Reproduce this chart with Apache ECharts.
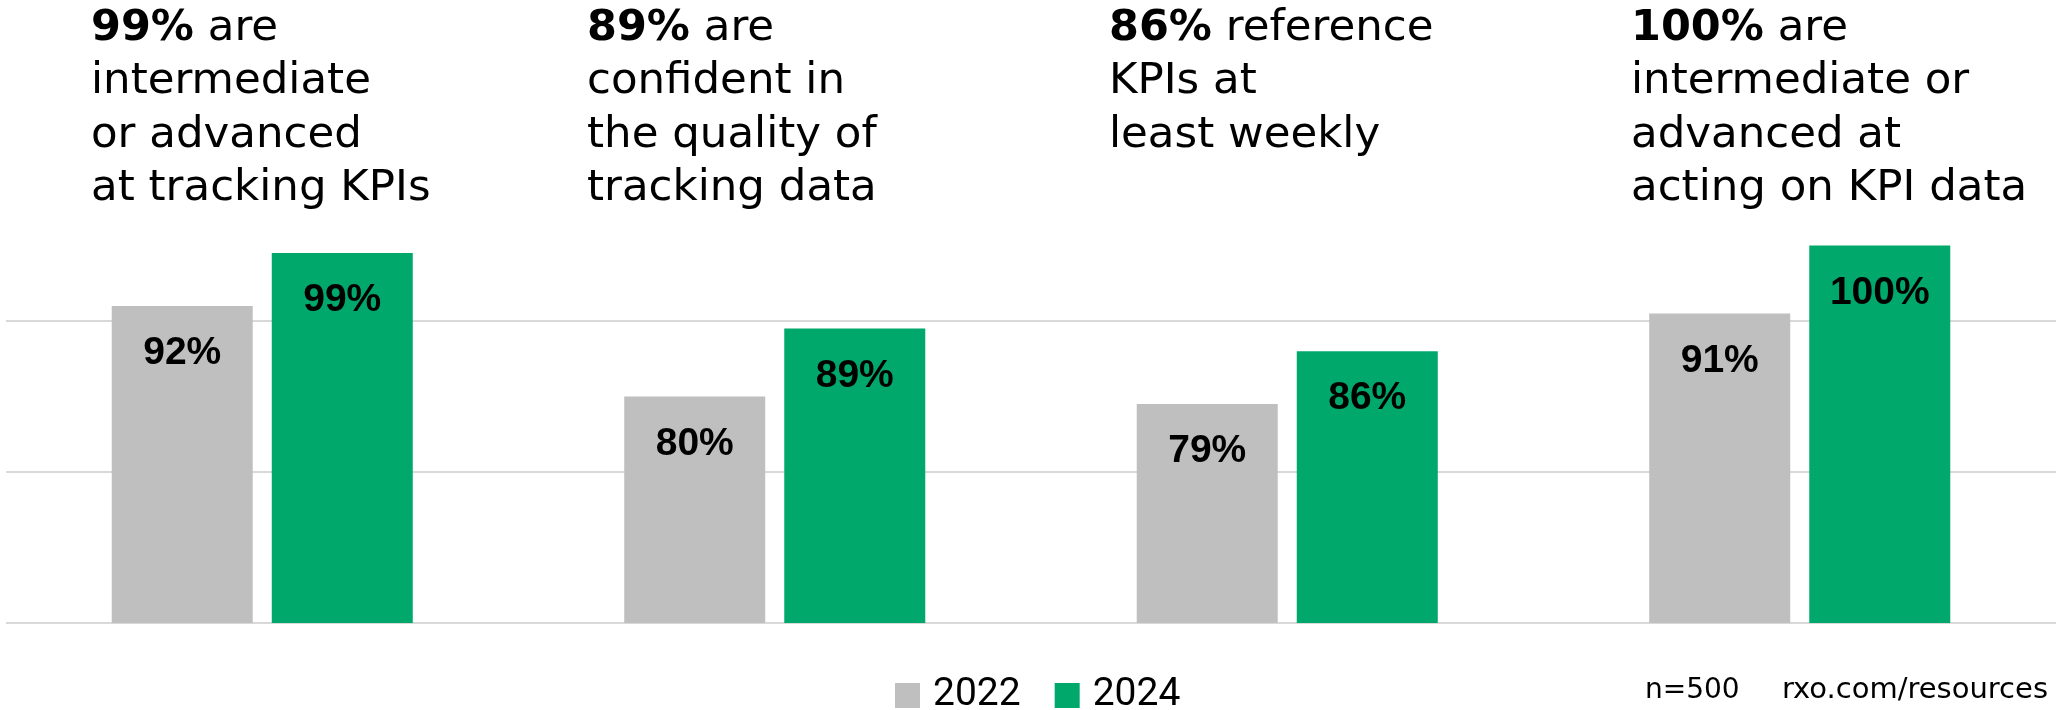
<!DOCTYPE html>
<html>
<head>
<meta charset="utf-8">
<script src="https://cdn.jsdelivr.net/npm/echarts@6/dist/echarts.min.js"></script>
<style>
  html, body { margin: 0; padding: 0; background: #ffffff; }
  #chart { width: 2062px; height: 710px; }
</style>
</head>
<body>
<div id="chart"></div>
<script>
// KPI survey results, 2022 vs 2024
const categories = ['Tracking KPIs', 'Data confidence', 'Weekly reference', 'Acting on KPI data'];
const seriesNames = ['2022', '2024'];
const values2022 = [92, 80, 79, 91];
const values2024 = [99, 89, 86, 100];

// Headline wording under each bold 2024 figure (one entry per line)
const headlineLines = [
  [' are', 'intermediate', 'or advanced', 'at tracking KPIs'],
  [' are', 'confident in', 'the quality of', 'tracking data'],
  [' reference', 'KPIs at', 'least weekly'],
  [' are', 'intermediate or', 'advanced at', 'acting on KPI data']
];
const headlineLeft = [91, 587, 1109, 1631];

const sampleNote = 'n=500';
const sourceNote = 'rxo.com/resources';

const GRAY = '#bfbfbf';
const GREEN = '#00a86b';
const TITLE_FONT = '"DejaVu Sans", sans-serif';

const chart = echarts.init(document.getElementById('chart'), null, { renderer: 'canvas' });

const titles = headlineLines.map((lines, i) => ({
  left: headlineLeft[i],
  top: 2,
  padding: 0,
  text: '{b|' + values2024[i] + '%}{n|' + lines[0] + '}\n' +
        lines.slice(1).map(l => '{n|' + l + '}').join('\n'),
  textStyle: {
    rich: {
      b: { fontFamily: TITLE_FONT, fontWeight: 'bold', fontSize: 43, color: '#000', lineHeight: 53.4 },
      n: { fontFamily: TITLE_FONT, fontWeight: 'normal', fontSize: 43.5, color: '#000', lineHeight: 53.4 }
    }
  }
}));

const barLabel = {
  show: true,
  position: 'insideTop',
  distance: 28,
  formatter: '{c}%',
  color: '#000',
  fontFamily: '"Liberation Sans", Arial, sans-serif',
  fontWeight: 'bold',
  fontSize: 39
};

chart.setOption({
  backgroundColor: '#ffffff',
  animation: false,
  title: titles,
  legend: {
    data: seriesNames,
    left: 895,
    top: 676,
    padding: 0,
    icon: 'rect',
    itemWidth: 25,
    itemHeight: 25,
    itemGap: 34,
    textStyle: {
      fontFamily: 'Roboto, sans-serif',
      fontSize: 39,
      color: '#000',
      padding: [0, 0, 0, 8]
    }
  },
  grid: { left: 6, right: 6, top: 170, bottom: 87, containLabel: false },
  xAxis: {
    type: 'category',
    data: categories,
    axisLine: { show: false },
    axisTick: { show: false },
    axisLabel: { show: false }
  },
  yAxis: {
    type: 'value',
    min: 50,
    max: 110,
    interval: 20,
    axisLine: { show: false },
    axisTick: { show: false },
    axisLabel: { show: false },
    splitLine: {
      show: true,
      showMaxLine: false,
      lineStyle: { color: ['#d9d9d9', '#d9d9d9', '#d9d9d9', 'rgba(0,0,0,0)'], width: 2 }
    }
  },
  series: [
    {
      name: seriesNames[0],
      type: 'bar',
      data: values2022,
      barWidth: 141,
      barGap: '13.5%',
      itemStyle: { color: GRAY },
      label: barLabel
    },
    {
      name: seriesNames[1],
      type: 'bar',
      data: values2024,
      barWidth: 141,
      barGap: '13.5%',
      itemStyle: { color: GREEN },
      label: barLabel
    }
  ],
  graphic: [
    {
      type: 'text',
      left: 1645,
      top: 677,
      style: { text: sampleNote, font: '28px "DejaVu Sans", sans-serif', fill: '#000' }
    },
    {
      type: 'text',
      right: 14,
      top: 676,
      style: { text: sourceNote, font: '29px "DejaVu Sans", sans-serif', fill: '#000' }
    }
  ]
});
</script>
</body>
</html>
